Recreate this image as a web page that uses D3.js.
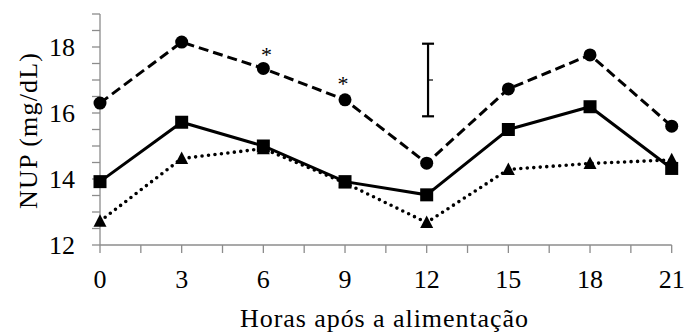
<!DOCTYPE html>
<html>
<head>
<meta charset="utf-8">
<title>NUP por hora</title>
<style>
  body { margin: 0; background: #fff; }
</style>
</head>
<body>
<script src="https://cdn.jsdelivr.net/npm/d3@7"></script>
<script>
// horas após a alimentação
var hours = [0, 3, 6, 9, 12, 15, 18, 21];
var xTicks = [0, 3, 6, 9, 12, 15, 18, 21];
var yTicks = [12, 14, 16, 18];

// NUP (mg/dL) por tratamento
var dashedCircle = [16.3, 18.15, 17.35, 16.4, 14.48, 16.73, 17.76, 15.6];
var solidSquare  = [13.92, 15.72, 15.0, 13.92, 13.52, 15.5, 16.19, 14.32];
var dottedTri    = [12.72, 14.62, 14.92, 13.88, 12.68, 14.29, 14.47, 14.58];

// barra de erro (12 h)
var errBar = { hour: 12.05, low: 15.9, high: 18.1, mid: 17.0 };
// asteriscos (posição do símbolo)
var stars = [{ hour: 6.12, v: 17.86 }, { hour: 8.93, v: 17.0 }];

var width = 685, height = 333;
var font = "'Times New Roman', 'Liberation Serif', 'DejaVu Serif', serif";
var fs = 26;

var x = d3.scaleLinear().domain([0, 21]).range([100, 671.7]);
var y = d3.scaleLinear().domain([12, 19]).range([245, 14]);

var svg = d3.select("body").append("svg")
    .attr("width", width)
    .attr("height", height)
    .attr("font-family", font);

// axes
var axisColor = "#8c8c8c";
var xMinor = d3.range(0, 21.01, 1.5);
var yMinor = d3.range(12, 19.01, 0.5);

var gx = svg.append("g").attr("transform", "translate(0," + y(12) + ")");
gx.append("line").attr("x1", x(0)).attr("x2", x(21))
    .attr("stroke", axisColor).attr("stroke-width", 1.3);
gx.selectAll(".tk").data(xMinor).enter().append("line")
    .attr("x1", function(d) { return x(d); })
    .attr("x2", function(d) { return x(d); })
    .attr("y1", 0).attr("y2", 8)
    .attr("stroke", axisColor).attr("stroke-width", 1.3);
gx.selectAll(".lb").data(xTicks).enter().append("text")
    .attr("x", function(d) { return x(d); })
    .attr("y", 43)
    .attr("text-anchor", "middle")
    .attr("font-size", fs)
    .text(function(d) { return d; });

var gy = svg.append("g").attr("transform", "translate(" + x(0) + ",0)");
gy.append("line").attr("y1", y(12)).attr("y2", y(19))
    .attr("stroke", axisColor).attr("stroke-width", 1.3);
gy.selectAll(".tk").data(yMinor).enter().append("line")
    .attr("y1", function(d) { return y(d); })
    .attr("y2", function(d) { return y(d); })
    .attr("x1", -8).attr("x2", 0)
    .attr("stroke", axisColor).attr("stroke-width", 1.3);
gy.selectAll(".lb").data(yTicks).enter().append("text")
    .attr("x", -25)
    .attr("y", function(d) { return y(d); })
    .attr("dy", "0.34em")
    .attr("text-anchor", "end")
    .attr("font-size", fs)
    .text(function(d) { return d; });

// axis titles
svg.append("text")
    .attr("x", 384).attr("y", 327)
    .attr("text-anchor", "middle")
    .attr("font-size", fs)
    .attr("textLength", 288)
    .attr("lengthAdjust", "spacing")
    .text("Horas após a alimentação");
svg.append("text")
    .attr("transform", "translate(37," + 131 + ") rotate(-90)")
    .attr("text-anchor", "middle")
    .attr("font-size", fs)
    .attr("textLength", 156)
    .attr("lengthAdjust", "spacing")
    .text("NUP (mg/dL)");

// series
function drawLine(vals, dash, cap, w) {
  var line = d3.line()
      .x(function(d, i) { return x(hours[i]); })
      .y(function(d) { return y(d); });
  svg.append("path").datum(vals)
      .attr("d", line)
      .attr("fill", "none")
      .attr("stroke", "#000")
      .attr("stroke-width", w)
      .attr("stroke-linecap", cap)
      .attr("stroke-dasharray", dash);
}

drawLine(dottedTri, "0,6.5", "round", 3.6);
svg.selectAll(".tri").data(dottedTri).enter().append("path")
    .attr("transform", function(d, i) { return "translate(" + x(hours[i]) + "," + y(d) + ")"; })
    .attr("d", "M0,-7L6.5,5.5L-6.5,5.5Z")
    .attr("fill", "#000");

drawLine(solidSquare, null, "butt", 3);
svg.selectAll(".sq").data(solidSquare).enter().append("rect")
    .attr("x", function(d, i) { return x(hours[i]) - 6.5; })
    .attr("y", function(d) { return y(d) - 6.5; })
    .attr("width", 13).attr("height", 13)
    .attr("fill", "#000");

drawLine(dashedCircle, "10,5", "butt", 3);
svg.selectAll(".ci").data(dashedCircle).enter().append("circle")
    .attr("cx", function(d, i) { return x(hours[i]); })
    .attr("cy", function(d) { return y(d); })
    .attr("r", 6.5)
    .attr("fill", "#000");

// error bar
var ex = x(errBar.hour);
var eb = svg.append("g").attr("stroke", "#000").attr("stroke-width", 2.2);
eb.append("line").attr("x1", ex).attr("x2", ex).attr("y1", y(errBar.low)).attr("y2", y(errBar.high));
eb.append("line").attr("x1", ex - 6).attr("x2", ex + 6).attr("y1", y(errBar.low)).attr("y2", y(errBar.low));
eb.append("line").attr("x1", ex - 6).attr("x2", ex + 6).attr("y1", y(errBar.high)).attr("y2", y(errBar.high));
eb.append("line").attr("x1", ex).attr("x2", ex + 5).attr("y1", y(errBar.mid)).attr("y2", y(errBar.mid))
    .attr("stroke-width", 1.2);

// asterisks
svg.selectAll(".star").data(stars).enter().append("text")
    .attr("x", function(d) { return x(d.hour); })
    .attr("y", function(d) { return y(d.v); })
    .attr("dy", "0.48em")
    .attr("text-anchor", "middle")
    .attr("font-size", 22)
    .text("*");
</script>
</body>
</html>
